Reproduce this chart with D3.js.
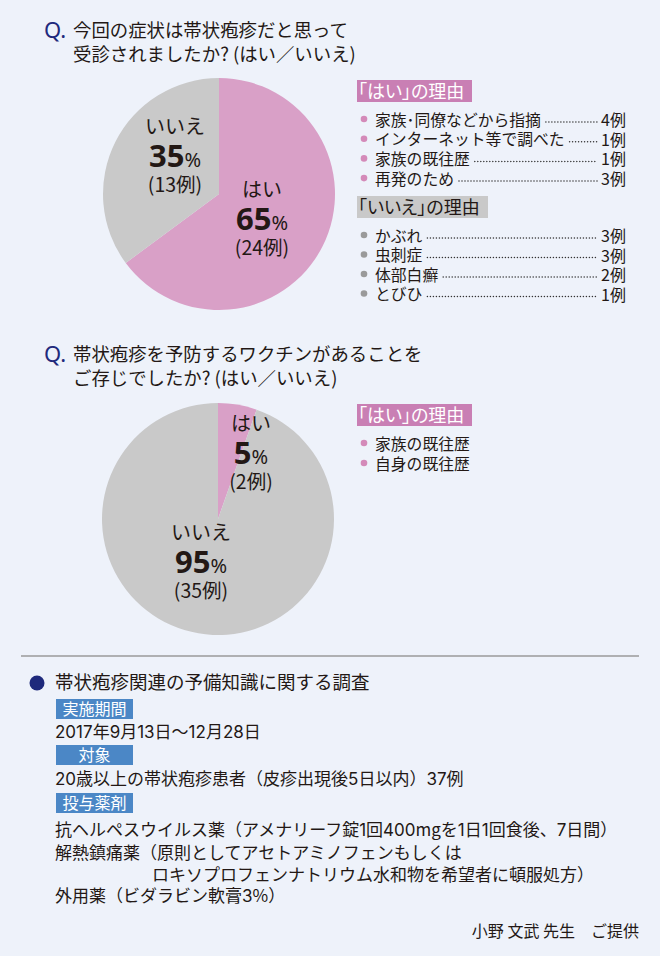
<!DOCTYPE html>
<html><head><meta charset="utf-8">
<script src="https://cdn.jsdelivr.net/npm/d3@7"></script>
<style>
html,body{margin:0;padding:0;background:#eef2fa;}
svg{display:block;}
text{font-family:"Noto Sans CJK JP","Noto Sans",sans-serif;fill:#231815;}
</style></head>
<body>
<script>
// ---- data ----
const q1Title = ["今回の症状は帯状疱疹だと思って", "受診されましたか? (はい／いいえ)"];
const q1Labels = ["はい", "いいえ"];
const q1Counts = [24, 13];
const q1Pct = [65, 35];
const q1YesReasons = ["家族･同僚などから指摘", "インターネット等で調べた", "家族の既往歴", "再発のため"];
const q1YesCounts = [4, 1, 1, 3];
const q1NoReasons = ["かぶれ", "虫刺症", "体部白癬", "とびひ"];
const q1NoCounts = [3, 3, 2, 1];

const q2Title = ["帯状疱疹を予防するワクチンがあることを", "ご存じでしたか? (はい／いいえ)"];
const q2Labels = ["はい", "いいえ"];
const q2Counts = [2, 35];
const q2Pct = [5, 95];
const q2YesReasons = ["家族の既往歴", "自身の既往歴"];

const surveyTitle = "帯状疱疹関連の予備知識に関する調査";
const surveyHeads = ["実施期間", "対象", "投与薬剤"];
const surveyPeriod = ["2017年9月13日〜12月28日"];
const surveyTarget = ["20歳以上の帯状疱疹患者（皮疹出現後5日以内）37例"];
const surveyDrugs = ["抗ヘルペスウイルス薬（アメナリーフ錠1回400mgを1日1回食後、7日間）",
  "解熱鎮痛薬（原則としてアセトアミノフェンもしくは",
  "ロキソプロフェンナトリウム水和物を希望者に頓服処方）",
  "外用薬（ビダラビン軟膏3%）"];
const credit = "小野 文武 先生　ご提供";

// ---- styles ----
const PINK = "#d9a0c7", GRAY = "#c9c9c9", PINKBOX = "#c97fb4", NAVY = "#1f2a7c", BLUE = "#4b87c6";

const W = 660, H = 956;
const svg = d3.select("body").append("svg").attr("width", W).attr("height", H);
svg.append("rect").attr("width", W).attr("height", H).attr("fill", "#eef2fa");

// text whose digit runs use a font with wider figures
function rich(sel, str) {
  str.split(/(\d+)/).filter(s => s.length).forEach(s => {
    const t = sel.append("tspan").text(s);
    if (/^\d+$/.test(s)) t.style("font-family", "Inter,'Noto Sans',sans-serif");
  });
  return sel;
}

function title(lines, y0) {
  svg.append("text").attr("x", 44).attr("y", y0 + 1).text("Q.")
    .style("font-family", "'Noto Sans',sans-serif").style("font-size", "22px").style("fill", NAVY);
  lines.forEach((l, i) => svg.append("text").attr("x", 73).attr("y", y0 + i * 24).text(l).style("font-size", "18.4px"));
}
title(q1Title, 37);
title(q2Title, 361);

const pieGen = d3.pie().sort(null).value(d => d);
const arcGen = d3.arc().innerRadius(0).outerRadius(116);

function pie(counts, cx, cy) {
  const g = svg.append("g").attr("transform", `translate(${cx},${cy})`);
  g.selectAll("path").data(pieGen(counts)).join("path")
    .attr("d", arcGen).attr("fill", (d, i) => i === 0 ? PINK : GRAY);
  return g;
}
function pieLabel(g, x, y, label, pct, n) {
  g.append("text").attr("x", x).attr("y", y).attr("text-anchor", "middle").text(label).style("font-size", "20px");
  const t = g.append("text").attr("x", x).attr("y", y + 33).attr("text-anchor", "middle");
  t.append("tspan").text(pct).style("font-size", "31px").style("font-weight", "bold").style("font-family", "'Noto Sans',sans-serif");
  t.append("tspan").text("%").style("font-size", "20px").style("font-family", "'Noto Sans',sans-serif");
  g.append("text").attr("x", x).attr("y", y + 58).attr("text-anchor", "middle").text("(" + n + "例)").style("font-size", "19.5px");
}

const p1 = pie(q1Counts, 219, 194);
pieLabel(p1, 43, 3, q1Labels[0], q1Pct[0], q1Counts[0]);
pieLabel(p1, -44, -60, q1Labels[1], q1Pct[1], q1Counts[1]);

const p2 = pie(q2Counts, 218, 519);
pieLabel(p2, 33, -88, q2Labels[0], q2Pct[0], q2Counts[0]);
pieLabel(p2, -17, 21, q2Labels[1], q2Pct[1], q2Counts[1]);

function boxHead(x, y, w, label, fill, color) {
  svg.append("rect").attr("x", x).attr("y", y).attr("width", w).attr("height", 22).attr("fill", fill);
  svg.append("text").attr("x", x + 1).attr("y", y + 17.5).text(label).style("font-size", "18px")
    .style("font-feature-settings", "'palt' 1").style("fill", color);
}
function legendItems(items, counts, y0, dy, bulletColor) {
  items.forEach((it, i) => {
    const y = y0 + i * dy;
    svg.append("circle").attr("cx", 364).attr("cy", y).attr("r", 3.3).attr("fill", bulletColor);
    const t = svg.append("text").attr("x", 375).attr("y", y).attr("dominant-baseline", "central").text(it).style("font-size", "15.8px");
    if (counts) {
      const c = svg.append("text").attr("x", 626).attr("y", y).attr("dominant-baseline", "central")
        .attr("text-anchor", "end").style("font-size", "16px").text(counts[i] + "例");
      const x1 = 375 + t.node().getComputedTextLength() + 5;
      const x2 = 626 - c.node().getComputedTextLength() - 4;
      svg.append("line").attr("x1", x1).attr("x2", x2).attr("y1", y + 3).attr("y2", y + 3)
        .attr("stroke", "#333").attr("stroke-width", 1.5).attr("stroke-linecap", "round")
        .attr("stroke-dasharray", "0,3");
    }
  });
}
boxHead(357, 80, 115, "「はい」の理由", PINKBOX, "#fff");
legendItems(q1YesReasons, q1YesCounts, 119, 19.7, "#d48ab9");
boxHead(357, 196, 131, "「いいえ」の理由", GRAY, "#231815");
legendItems(q1NoReasons, q1NoCounts, 235, 19.5, "#9a9a9a");
boxHead(357, 404, 115, "「はい」の理由", PINKBOX, "#fff");
legendItems(q2YesReasons, null, 443, 20, "#d48ab9");

// separator
svg.append("line").attr("x1", 21).attr("x2", 639).attr("y1", 656).attr("y2", 656).attr("stroke", "#9a9a9a").attr("stroke-width", 1.5);

// survey
svg.append("circle").attr("cx", 37).attr("cy", 683).attr("r", 7.5).attr("fill", NAVY);
svg.append("text").attr("x", 55).attr("y", 689).text(surveyTitle).style("font-size", "18.5px");
function blueHead(y, label) {
  svg.append("rect").attr("x", 56).attr("y", y).attr("width", 77).attr("height", 20).attr("fill", BLUE);
  svg.append("text").attr("x", 94.5).attr("y", y + 16).attr("text-anchor", "middle").text(label).style("font-size", "16px").style("fill", "#fff");
}
function body(x, y, s) { rich(svg.append("text").attr("x", x).attr("y", y).style("font-size", "17px"), s); }
blueHead(699, surveyHeads[0]);
body(55, 738, surveyPeriod[0]);
blueHead(745, surveyHeads[1]);
body(55, 785, surveyTarget[0]);
blueHead(793, surveyHeads[2]);
body(55, 836, surveyDrugs[0]);
body(55, 859, surveyDrugs[1]);
body(152, 881, surveyDrugs[2]);
body(55, 902, surveyDrugs[3]);
svg.append("text").attr("x", 639).attr("y", 937).attr("text-anchor", "end").text(credit).style("font-size", "16px");
</script>
</body></html>
